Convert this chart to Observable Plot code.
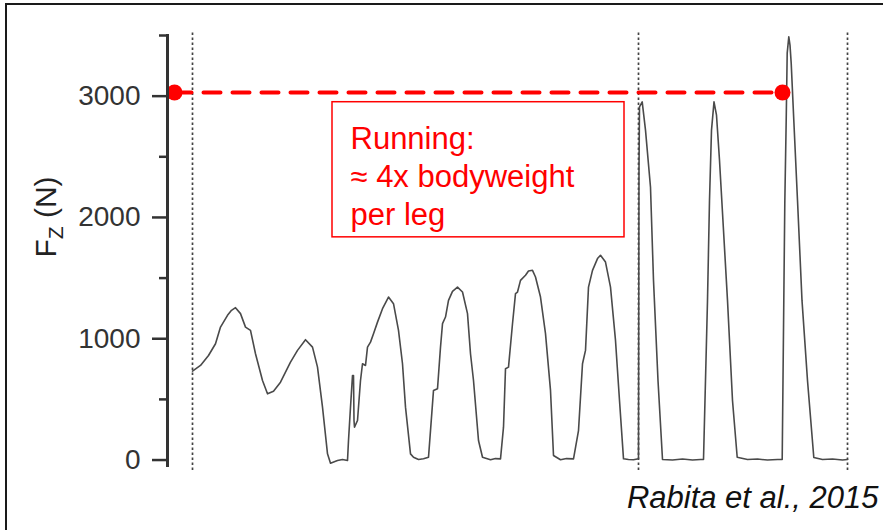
<!DOCTYPE html>
<html>
<head>
<meta charset="utf-8">
<script src="https://cdn.jsdelivr.net/npm/d3@7"></script>
<script src="https://cdn.jsdelivr.net/npm/@observablehq/plot@0.6"></script>
<style>
  html, body { margin: 0; padding: 0; background: #fff; overflow: hidden; }
  #wrap { position: relative; width: 883px; height: 530px; }
  #border { position: absolute; left: 5px; top: 3px; width: 900px; height: 600px; border: 2px solid #1a1a1a; pointer-events: none; }
</style>
</head>
<body>
<div id="wrap"><div id="border"></div></div>
<script>
// Vertical ground reaction force trace (t in arbitrary time units, force in N)
const trace = [
  [0,733],[8,780],[16,862],[23,959],[28,1096],[35,1193],[39,1234],[43,1256],[48,1207],[53,1096],
  [58,1069],[63,876],[70,656],[75,546],[81,568],[88,642],[98,807],[105,904],[113,992],[120,931],
  [125,766],[130,436],[135,51],[138,-26],[145,-4],[150,4],[155,-4],[156,161],[158,436],[160,697],
  [161,697],[161.5,326],[162,271],[165,326],[168,656],[170,794],[173,780],[175,931],[178,972],[181,1042],
  [185,1137],[190,1248],[196,1344],[201,1289],[206,1069],[210,794],[213,436],[218,51],[221,23],[226,4],
  [231,10],[236,23],[238,243],[241,574],[245,588],[248,931],[250,1124],[253,1179],[256,1316],[260,1391],
  [265,1426],[270,1385],[275,1207],[278,876],[281,656],[286,161],[290,23],[298,2],[303,12],[308,10],
  [311,271],[313,753],[316,766],[320,1124],[323,1372],[325,1385],[328,1481],[333,1523],[336,1558],[340,1564],
  [343,1509],[348,1344],[353,1042],[358,574],[361,37],[368,2],[374,12],[381,10],[386,243],[390,794],
  [393,904],[396,1426],[400,1564],[405,1661],[408,1688],[413,1632],[418,1426],[423,986],[427,491],[431,10],
  [436,4],[441,2],[446,10],[446.5,2400],[447,2912],[449.7,2953],[453,2720],[458,2249],[461,1481],[465.5,656],
  [470,4],[480,0],[490,8],[500,0],[508,4],[511,4],[515,1316],[517,2142],[519,2720],[521.5,2953],
  [524,2843],[527,2472],[531,1894],[535,1316],[540,491],[544.7,23],[555,4],[565,8],[575,0],[585,4],
  [589.7,4],[591.3,1316],[592.3,2117],[593.7,2802],[594.7,3355],[596.3,3489],[597.5,3421],[598.7,3272],[601.3,2802],[605,2142],
  [609.5,1316],[615,656],[621.3,21],[630,4],[640,8],[650,0],[655,4]
];
const markers = [0, 446, 655];               // dotted vertical event lines
const refLine = [[-18, 3030], [590, 3030]];  // red dashed reference: ~3000 N
const majorTicks = [0, 1000, 2000, 3000];
const minorTicks = [500, 1500, 2500, 3500];
const noteLines = ["Running:", "≈ 4x bodyweight", "per leg"];
const noteBox = [{x1: 140, x2: 432, y1: 1836, y2: 2950}];
const noteAnchor = [{t: 158, f: 2790}];
const caption = ["Rabita et al., 2015"];

const data = trace.map(([t, f]) => ({t, f}));
const font = "'Liberation Sans', Arial, Helvetica, sans-serif";

const chart = Plot.plot({
  width: 883,
  height: 530,
  marginLeft: 167,
  marginRight: 26,
  marginTop: 35,
  marginBottom: 65,
  style: {fontFamily: font, background: "transparent", color: "#222", overflow: "visible"},
  x: {domain: [-25, 665], axis: null},
  y: {domain: [-45, 3500], axis: null},
  marks: [
    Plot.ruleX(markers, {y1: -87, y2: 3520, stroke: "#444", strokeWidth: 1.7, strokeDasharray: "2.5,2.5"}),
    Plot.line(data, {x: "t", y: "f", stroke: "#4a4a4a", strokeWidth: 1.6, curve: "linear"}),
    Plot.rect(noteBox, {x1: "x1", x2: "x2", y1: "y1", y2: "y2", fill: "white", stroke: "#ff0000", strokeWidth: 1.5}),
    Plot.text(noteAnchor, {x: "t", y: "f", text: () => noteLines.join("\n"), textAnchor: "start", lineAnchor: "top",
      lineHeight: 1.23, fontSize: 31, fill: "#ff0000"}),
    Plot.line(refLine, {x: d => d[0], y: d => d[1], stroke: "#ff0000", strokeWidth: 4, strokeDasharray: "17,12"}),
    Plot.dot(refLine, {x: d => d[0], y: d => d[1], r: 8, fill: "#ff0000", stroke: "none"}),
    Plot.frame({anchor: "left", stroke: "#333", strokeWidth: 3}),
    Plot.axisY(majorTicks, {tickSize: 15, tickPadding: 12, fontSize: 28, strokeWidth: 2.5, color: "#333",
      tickFormat: d => String(d), label: null}),
    Plot.axisY(minorTicks, {tickSize: 8, tickFormat: () => "", strokeWidth: 2.5, color: "#333", label: null}),
    Plot.text(caption, {frameAnchor: "bottom-right", text: d => d, dx: 21, dy: 33, lineAnchor: "middle",
      textAnchor: "end", fontSize: 31, fontStyle: "italic", fill: "#111"})
  ]
});

document.getElementById("wrap").prepend(chart);

// y-axis label with subscript
const svg = d3.select(chart);
const lab = svg.append("text")
  .attr("transform", "translate(56,217) rotate(-90)")
  .attr("text-anchor", "middle")
  .attr("fill", "#222")
  .style("font-family", font)
  .style("font-size", "30px");
lab.append("tspan").text("F");
lab.append("tspan").attr("dy", 7).style("font-size", "21px").text("Z");
lab.append("tspan").attr("dy", -7).text(" (N)");
</script>
</body>
</html>
